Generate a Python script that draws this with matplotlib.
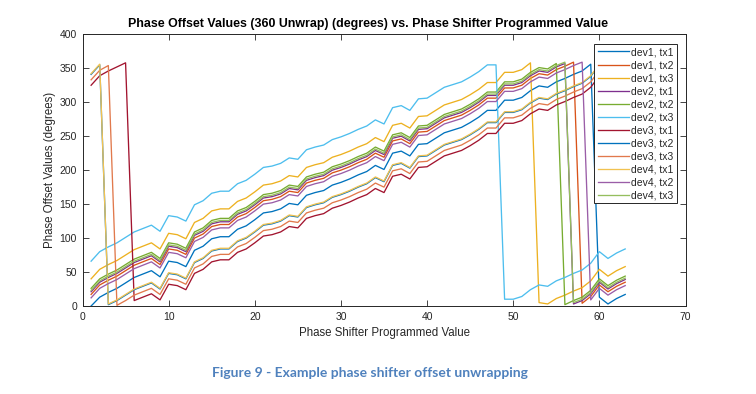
import numpy as np
import matplotlib
matplotlib.use("Agg")
import matplotlib.pyplot as plt
from matplotlib.colors import to_rgb

# ---------------- data ----------------
x = np.arange(1, 64)

dev1_tx1 = [0, 13, 20, 26, 34, 42, 47, 52, 43, 66, 64, 58, 82, 88, 99, 102, 102, 113, 118, 127,
            137, 139, 143, 151, 149, 163, 167, 170, 178, 182, 187, 193, 198, 207, 201, 225, 228, 221, 238, 239,
            247, 255, 259, 263, 270, 278, 288, 288, 303, 303, 307, 317, 324, 322, 330, 335, 341, 346, 356, 13,
            3, 11, 17]
dev1_tx2 = [17, 31, 38, 44, 52, 60, 65, 70, 61, 84, 82, 76, 100, 106, 117, 120, 120, 131, 136, 145,
            155, 157, 161, 169, 167, 181, 185, 188, 196, 200, 205, 211, 216, 225, 219, 243, 246, 239, 256, 257,
            265, 273, 277, 281, 288, 296, 306, 306, 321, 321, 325, 335, 342, 340, 348, 353, 359, 4, 14, 31,
            21, 29, 35]
dev1_tx3 = [40, 54, 61, 67, 75, 83, 88, 93, 84, 107, 105, 99, 123, 129, 140, 143, 143, 154, 159, 168,
            178, 180, 184, 192, 190, 204, 208, 211, 219, 223, 228, 234, 239, 248, 242, 266, 269, 262, 279, 280,
            288, 296, 300, 304, 311, 319, 329, 329, 344, 344, 348, 358, 5, 3, 11, 16, 22, 27, 37, 54,
            44, 52, 58]
dev2_tx1 = [21, 35, 42, 48, 56, 64, 69, 74, 65, 88, 86, 80, 104, 110, 121, 124, 124, 135, 140, 149,
            159, 161, 165, 173, 171, 185, 189, 192, 200, 204, 209, 215, 220, 229, 223, 247, 250, 243, 260, 261,
            269, 277, 281, 285, 292, 300, 310, 310, 325, 325, 329, 339, 346, 344, 352, 357, 3, 8, 18, 35,
            25, 33, 39]
dev2_tx2 = [26, 40, 47, 53, 61, 69, 74, 79, 70, 93, 91, 85, 109, 115, 126, 129, 129, 140, 145, 154,
            164, 166, 170, 178, 176, 190, 194, 197, 205, 209, 214, 220, 225, 234, 228, 252, 255, 248, 265, 266,
            274, 282, 286, 290, 297, 305, 315, 315, 330, 330, 334, 344, 351, 349, 357, 2, 8, 13, 23, 40,
            30, 38, 44]
dev2_tx3 = [66, 80, 87, 93, 101, 109, 114, 119, 110, 133, 131, 125, 149, 155, 166, 169, 169, 180, 185, 194,
            204, 206, 210, 218, 216, 230, 234, 237, 245, 249, 254, 260, 265, 274, 268, 292, 295, 288, 305, 306,
            314, 322, 326, 330, 337, 345, 355, 355, 10, 10, 14, 24, 31, 29, 37, 42, 48, 53, 63, 80,
            70, 78, 84]
dev3_tx1 = [325, 339, 346, 352, 358, 8, 13, 18, 9, 32, 30, 24, 48, 54, 65, 68, 68, 79, 84, 93,
            103, 105, 109, 117, 115, 129, 133, 136, 144, 148, 153, 159, 164, 173, 167, 191, 194, 187, 204, 205,
            213, 221, 225, 229, 236, 244, 254, 254, 269, 269, 273, 283, 290, 288, 296, 301, 307, 312, 322, 339,
            329, 337, 343]
dev3_tx2 = [341, 355, 2, 8, 16, 24, 29, 34, 25, 48, 46, 40, 64, 70, 81, 84, 84, 95, 100, 109,
            119, 121, 125, 133, 131, 145, 149, 152, 160, 164, 169, 175, 180, 189, 183, 207, 210, 203, 220, 221,
            229, 237, 241, 245, 252, 260, 270, 270, 285, 285, 289, 299, 306, 304, 312, 317, 323, 328, 338, 355,
            345, 353, 357]
dev3_tx3 = [333, 347, 354, 1, 8, 16, 21, 26, 17, 40, 38, 32, 56, 62, 73, 76, 76, 87, 92, 101,
            111, 113, 117, 125, 123, 137, 141, 144, 152, 156, 161, 167, 172, 181, 175, 199, 202, 195, 212, 213,
            221, 229, 233, 237, 244, 252, 262, 262, 277, 277, 281, 291, 298, 296, 304, 309, 315, 320, 330, 347,
            337, 345, 351]
dev4_tx1 = [342, 356, 3, 9, 17, 25, 30, 35, 26, 49, 47, 41, 65, 71, 82, 85, 85, 96, 101, 110,
            120, 122, 126, 134, 132, 146, 150, 153, 161, 165, 170, 176, 181, 190, 184, 208, 211, 204, 221, 222,
            230, 238, 242, 246, 253, 261, 271, 271, 286, 286, 290, 300, 307, 305, 313, 318, 324, 329, 339, 356,
            346, 354, 358]
dev4_tx2 = [12, 26, 33, 39, 47, 55, 60, 65, 56, 79, 77, 71, 95, 101, 112, 115, 115, 126, 131, 140,
            150, 152, 156, 164, 162, 176, 180, 183, 191, 195, 200, 206, 211, 220, 214, 238, 241, 234, 251, 252,
            260, 268, 272, 276, 283, 291, 301, 301, 316, 316, 320, 330, 337, 335, 343, 348, 354, 359, 9, 26,
            16, 24, 30]
dev4_tx3 = [23, 37, 44, 50, 58, 66, 71, 76, 67, 90, 88, 82, 106, 112, 123, 126, 126, 137, 142, 151,
            161, 163, 167, 175, 173, 187, 191, 194, 202, 206, 211, 217, 222, 231, 225, 249, 252, 245, 262, 263,
            271, 279, 283, 287, 294, 302, 312, 312, 327, 327, 331, 341, 348, 346, 354, 359, 5, 10, 20, 37,
            27, 35, 41]

labels = ["dev1, tx1", "dev1, tx2", "dev1, tx3", "dev2, tx1", "dev2, tx2", "dev2, tx3",
          "dev3, tx1", "dev3, tx2", "dev3, tx3", "dev4, tx1", "dev4, tx2", "dev4, tx3"]
series = [dev1_tx1, dev1_tx2, dev1_tx3, dev2_tx1, dev2_tx2, dev2_tx3,
          dev3_tx1, dev3_tx2, dev3_tx3, dev4_tx1, dev4_tx2, dev4_tx3]

xticks = [0, 10, 20, 30, 40, 50, 60, 70]
yticks = [0, 50, 100, 150, 200, 250, 300, 350, 400]

title = "Phase Offset Values (360 Unwrap) (degrees) vs. Phase Shifter Programmed Value"
xlabel = "Phase Shifter Programmed Value"
ylabel = "Phase Offset Values (degrees)"
caption = "Figure 9 - Example phase shifter offset unwrapping"

# ---------------- style ----------------
base_colors = ["#0072BD", "#D95319", "#EDB120", "#7E2F8E", "#77AC30", "#4DBEEE", "#A2142F"]


def lighten(c, f):
    r, g, b = to_rgb(c)
    return (r + (1 - r) * f, g + (1 - g) * f, b + (1 - b) * f)


colors = [base_colors[i % 7] if i < 8 else lighten(base_colors[i % 7], 0.22) for i in range(12)]

plt.rcParams['font.family'] = ['Liberation Sans', 'DejaVu Sans']
axcol = "#262626"

fig = plt.figure(figsize=(7.56, 3.94), dpi=100)
ax = fig.add_axes([82.5 / 756, 1 - 306 / 394, (685.5 - 82.5) / 756, (306 - 34.3) / 394])

for s, c, lab in zip(series, colors, labels):
    ax.plot(x, s, color=c, lw=0.95, label=lab)

ax.set_xlim(0, 70)
ax.set_ylim(0, 400)
ax.set_xticks(xticks)
ax.set_yticks(yticks)
ax.tick_params(direction='in', top=True, right=True, length=4, width=0.6,
               labelsize=7.5, colors=axcol, pad=4)
for sp in ax.spines.values():
    sp.set_color(axcol)
    sp.set_linewidth(0.7)

ax.set_title(title, fontsize=8.9, fontweight='bold', color='black', pad=5,
             x=(368 - 82.5) / 603)
ax.set_xlabel(xlabel, fontsize=8.3, color=axcol, labelpad=4)
ax.set_ylabel(ylabel, fontsize=8.3, color=axcol, labelpad=2.5)

leg = ax.legend(loc='upper right', bbox_to_anchor=(677 / 756, 1 - 44 / 394),
                bbox_transform=fig.transFigure, fontsize=7.5, handlelength=3.0,
                handletextpad=0.25, labelspacing=0.29, borderpad=0.3,
                fancybox=False, framealpha=1, edgecolor=axcol, borderaxespad=0)
leg.get_frame().set_linewidth(0.7)
for t in leg.get_texts():
    t.set_color(axcol)

fig.text(370 / 756, 1 - 373 / 394, caption, family=['Lato', 'DejaVu Sans'],
         fontweight='bold', color='#4F81BD', fontsize=10, ha='center', va='center')

fig.savefig("out.png", dpi=100)
